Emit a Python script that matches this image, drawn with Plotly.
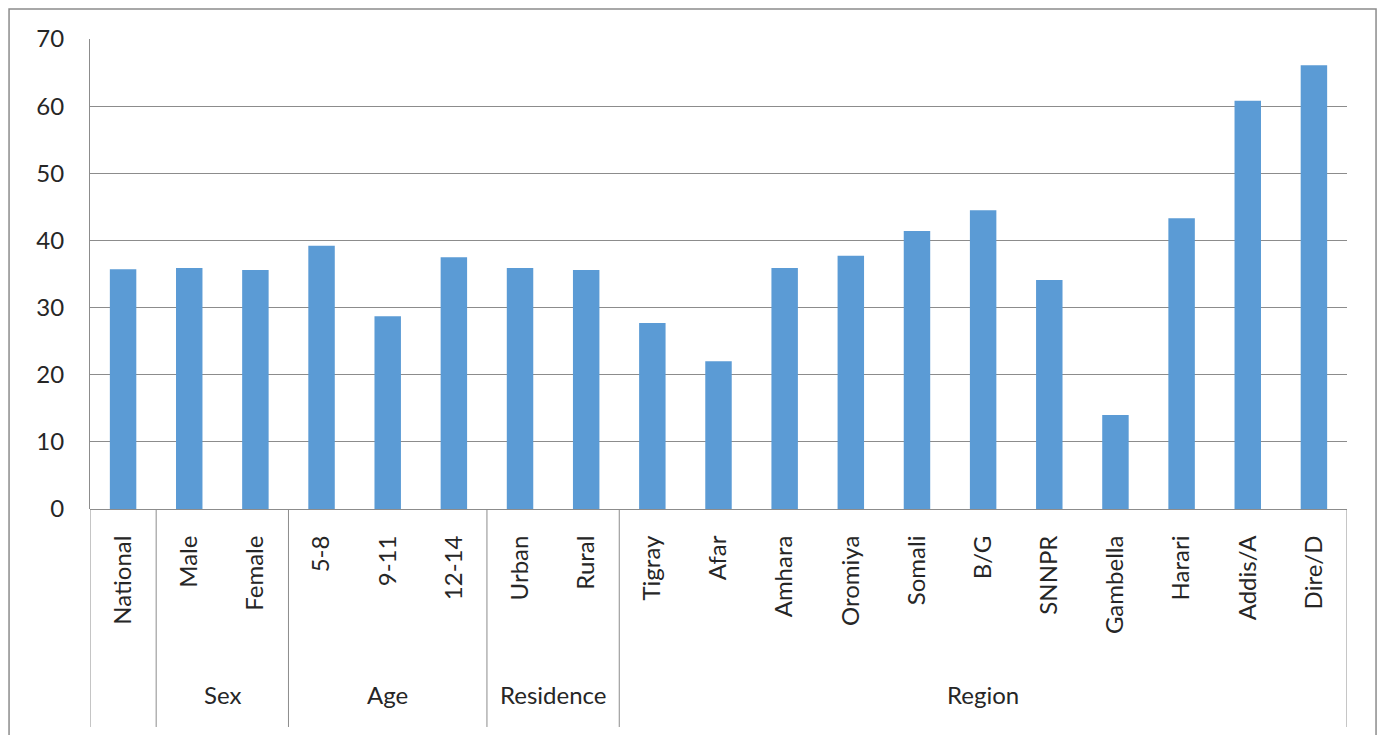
import plotly.graph_objects as go

categories = ["National", "Male", "Female", "5-8", "9-11", "12-14", "Urban", "Rural",
              "Tigray", "Afar", "Amhara", "Oromiya", "Somali", "B/G", "SNNPR",
              "Gambella", "Harari", "Addis/A", "Dire/D"]
values = [35.7, 35.9, 35.6, 39.2, 28.7, 37.5, 35.9, 35.6,
          27.7, 22.0, 35.9, 37.7, 41.4, 44.5, 34.1, 14.0, 43.3, 60.8, 66.1]
groups = [("", 0, 0), ("Sex", 1, 2), ("Age", 3, 5), ("Residence", 6, 7), ("Region", 8, 18)]
y_ticks = [0, 10, 20, 30, 40, 50, 60, 70]

FONT = "Lato"
FS = 24
GRID = "#8c8c8c"
TXT = "#262626"

fig = go.Figure(go.Bar(x=list(range(len(categories))), y=values,
                       marker=dict(color="#5B9BD5", line=dict(width=0)), width=0.4))

shapes = []
annotations = []
bottom = -0.4638
# separators at group boundaries
bounds = [-0.5] + [g[2] + 0.5 for g in groups]
for b in bounds:
    shapes.append(dict(type="line", xref="x", yref="paper", x0=b, x1=b, y0=bottom, y1=0,
                       line=dict(color=GRID, width=1)))
for name, a, b in groups:
    if name:
        annotations.append(dict(text=name, xref="x", yref="paper", x=(a + b) / 2, y=-0.394,
                                showarrow=False, font=dict(family=FONT, size=FS, color=TXT),
                                xanchor="center", yanchor="middle"))
# outer chart border
shapes.append(dict(type="path", xref="paper", yref="paper",
                   path="M -0.0644,-0.6 L -0.0644,1.0638 L 1.0231,1.0638 L 1.0231,-0.6",
                   line=dict(color="#8c8c8c", width=1.5)))

fig.update_layout(
    width=1383, height=735,
    margin=dict(l=90, r=36, t=39, b=226),
    paper_bgcolor="white", plot_bgcolor="white",
    showlegend=False,
    shapes=shapes, annotations=annotations,
    xaxis=dict(tickmode="array", tickvals=list(range(len(categories))), ticktext=categories,
               tickangle=-90, range=[-0.5, 18.5], showgrid=False, zeroline=False,
               showline=False, ticks="outside", ticklen=16, tickcolor="rgba(0,0,0,0)",
               tickfont=dict(family=FONT, size=FS, color=TXT)),
    yaxis=dict(range=[0, 70], tickmode="array", tickvals=y_ticks, showgrid=True,
               gridcolor=GRID, gridwidth=1, zeroline=True, zerolinecolor=GRID, zerolinewidth=1,
               showline=True, linecolor=GRID, linewidth=1,
               ticks="outside", ticklen=20, tickcolor="rgba(0,0,0,0)",
               tickfont=dict(family=FONT, size=FS, color=TXT)),
)
fig.write_html("out.html")
